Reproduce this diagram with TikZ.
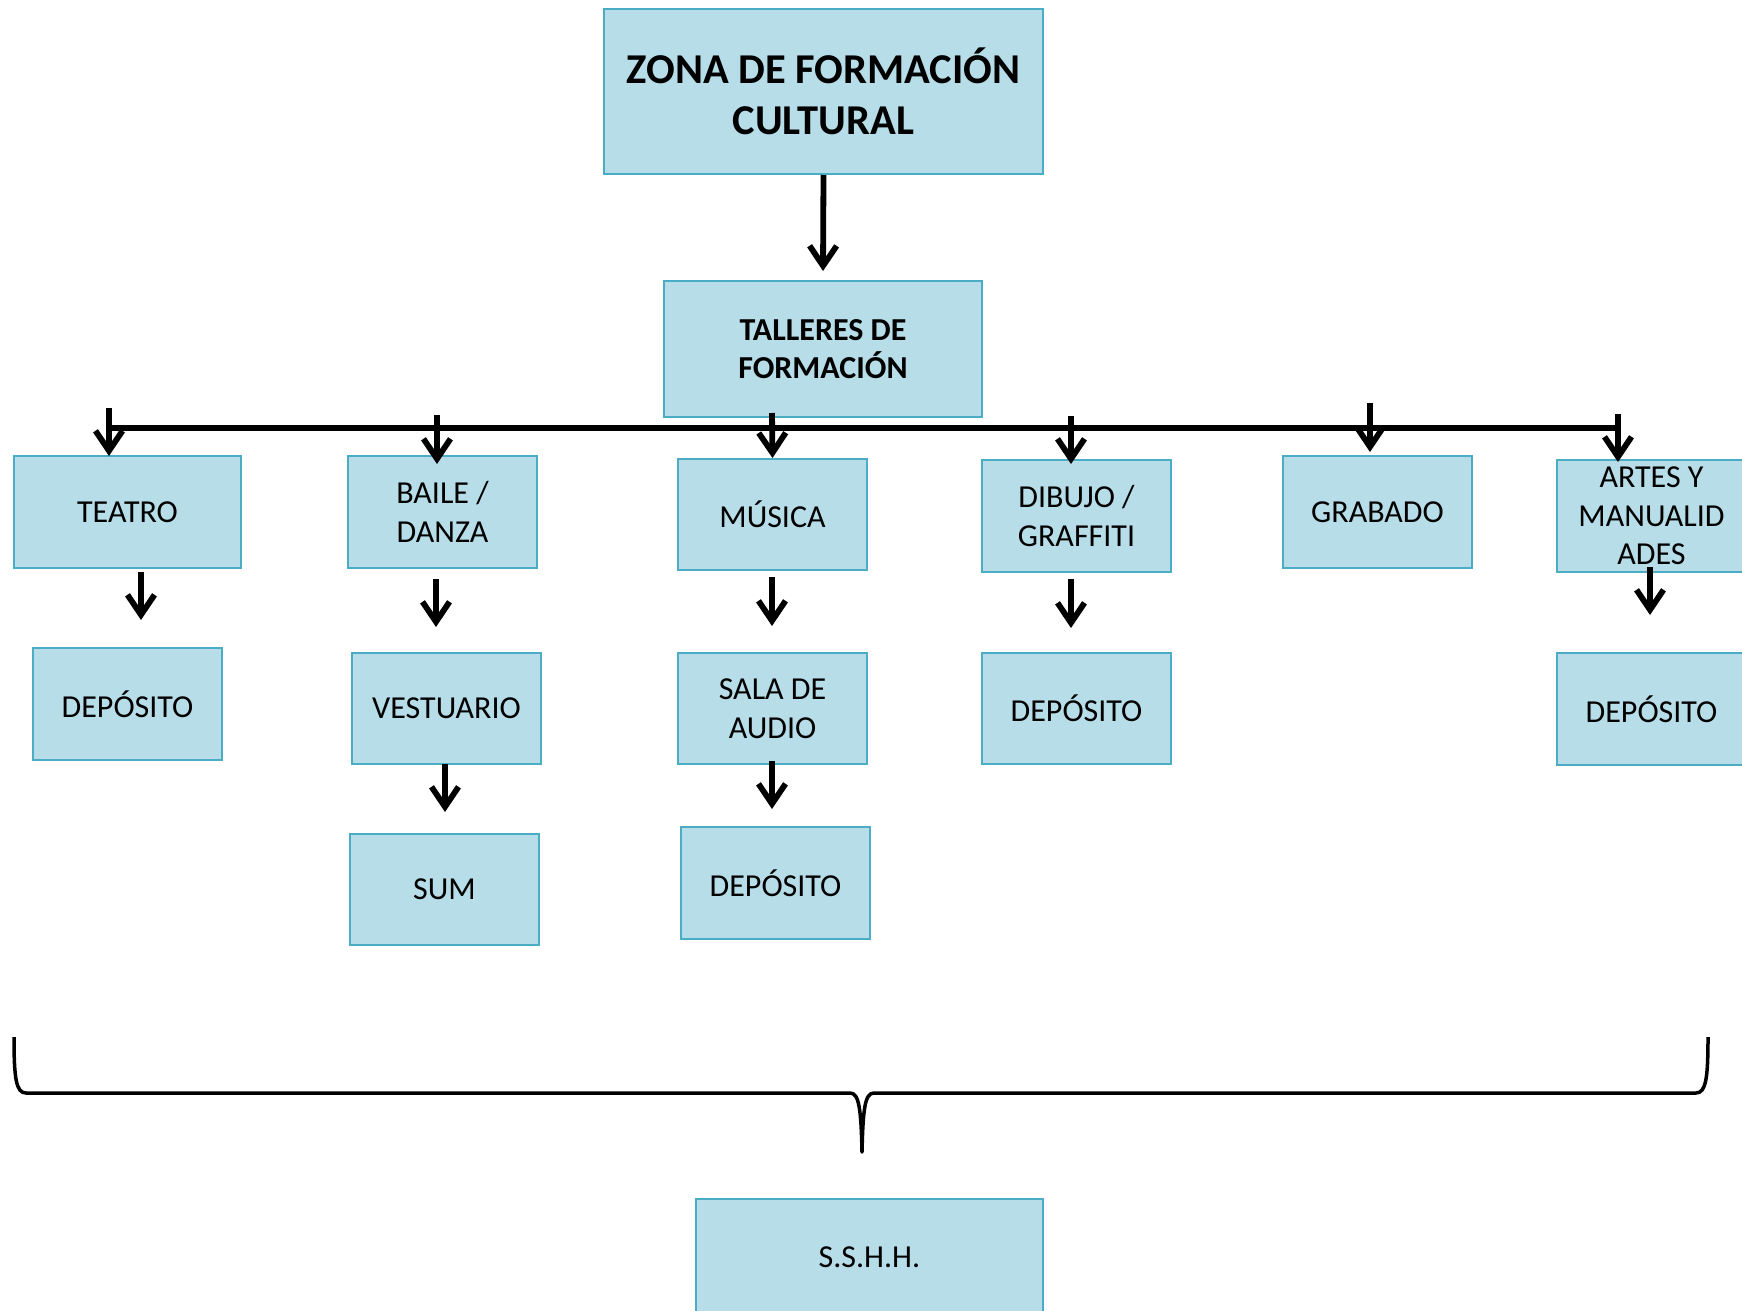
\documentclass[tikz,border=0pt]{standalone}
\usepackage{fontspec}
\setmainfont{Carlito}
\usetikzlibrary{arrows.meta}
\definecolor{boxfill}{HTML}{B7DDE8}
\definecolor{boxline}{HTML}{4BACC6}
\begin{document}
\begin{tikzpicture}[x=1pt,y=-1pt,
  box/.style={draw=boxline, fill=boxfill, line width=2pt, inner sep=0pt, align=center,
    minimum width=189pt, minimum height=112pt, font=\fontsize{32}{38.5}\selectfont},
  arr/.style={line width=5.8pt, -{Straight Barb[length=20pt,width=27pt]}},
  bus/.style={line width=5.8pt},
  bracestyle/.style={line width=3.5pt, line join=round}]
\useasboundingbox (0,0) rectangle (1742,1310);

% top levels
\node[box, minimum width=439pt, minimum height=165pt, font=\bfseries\fontsize{42.5}{51}\selectfont] (top) at (823.5,91.5) {ZONA DE FORMACIÓN\\CULTURAL};
\node[box, minimum width=318pt, minimum height=136pt, font=\bfseries\fontsize{32}{37.5}\selectfont] (tall) at (823,349) {TALLERES DE\\FORMACIÓN};

% row 1
\node[box, minimum width=227pt] (teatro) at (127.5,512) {TEATRO};
\node[box] (baile) at (442.5,512) {BAILE /\\DANZA};
\node[box, minimum height=111pt] (musica) at (772.5,514.5) {MÚSICA};
\node[box] (dibujo) at (1076.5,516) {DIBUJO /\\GRAFFITI};
\node[box] (grabado) at (1377.5,512) {GRABADO};
\node[box] (artes) at (1651.5,516) {ARTES Y\\MANUALID\\ADES};

% row 2
\node[box] (dep1) at (127.5,704) {DEPÓSITO};
\node[box, minimum height=111pt] (vest) at (446.5,708.5) {VESTUARIO};
\node[box, minimum height=111pt] (sala) at (772.5,708.5) {SALA DE\\AUDIO};
\node[box, minimum height=111pt] (dep3) at (1076.5,708.5) {DEPÓSITO};
\node[box] (dep4) at (1651.5,709) {DEPÓSITO};

% row 3
\node[box, minimum height=111pt] (sum) at (444.5,889.5) {SUM};
\node[box] (dep2) at (775.5,883) {DEPÓSITO};

% bottom
\node[box, minimum width=347pt, minimum height=116pt] (sshh) at (869.5,1257) {S.S.H.H.};

% connectors
\draw[arr] (top.south) -- ([yshift=9pt]tall.north);
\coordinate (busL) at (109,428);
\coordinate (busR) at (1618,428);
\draw[bus] (busL) -- (busR);

\draw[arr] ([xshift=-18.5pt,yshift=47pt]teatro.north) -- ([xshift=-18.5pt,yshift=-1pt]teatro.north);
\draw[arr] ([xshift=-5.5pt,yshift=40pt]baile.north) -- ([xshift=-5.5pt,yshift=-9pt]baile.north);
\draw[arr] ([xshift=-0.5pt,yshift=5pt]tall.south -| musica.north) -- (musica.north);
\draw[arr] ([xshift=-5.5pt,yshift=43pt]dibujo.north) -- ([xshift=-5.5pt,yshift=-5pt]dibujo.north);
\draw[arr] ([xshift=-7.5pt,yshift=52pt]grabado.north) -- ([xshift=-7.5pt,yshift=3pt]grabado.north);
\draw[arr] ([xshift=-33.5pt,yshift=45pt]artes.north) -- ([xshift=-33.5pt,yshift=-3pt]artes.north);

\draw[arr] ([xshift=13.5pt,yshift=75pt]dep1.north) -- ([xshift=13.5pt,yshift=27pt]dep1.north);
\draw[arr] ([xshift=-10.5pt,yshift=73pt]vest.north) -- ([xshift=-10.5pt,yshift=25pt]vest.north);
\draw[arr] ([xshift=-0.5pt,yshift=75pt]sala.north) -- ([xshift=-0.5pt,yshift=26pt]sala.north);
\draw[arr] ([xshift=-5.5pt,yshift=73pt]dep3.north) -- ([xshift=-5.5pt,yshift=24pt]dep3.north);
\draw[arr] ([xshift=-1.5pt,yshift=85pt]dep4.north) -- ([xshift=-1.5pt,yshift=37pt]dep4.north);
\draw[arr] ([xshift=0.5pt,yshift=69pt]sum.north) -- ([xshift=0.5pt,yshift=21pt]sum.north);
\draw[arr] ([xshift=-3.5pt,yshift=65pt]dep2.north) -- ([xshift=-3.5pt,yshift=17pt]dep2.north);

% brace
\draw[bracestyle] (14,1037) .. controls (14,1078) and (16,1093) .. (26,1093)
  -- (850,1093) .. controls (859,1093) and (861,1108) .. (862,1152)
  .. controls (863,1108) and (865,1093) .. (874,1093)
  -- (1696,1093) .. controls (1706,1093) and (1708,1078) .. (1708,1037);
\end{tikzpicture}
\end{document}
